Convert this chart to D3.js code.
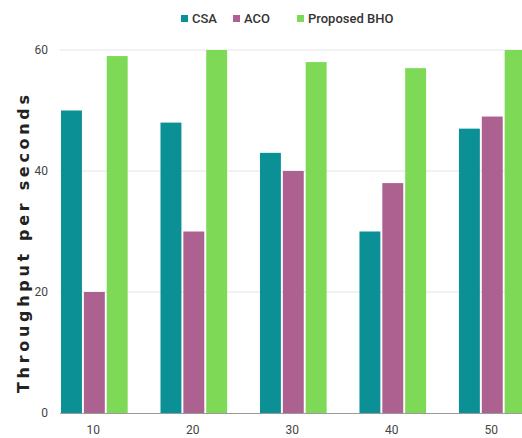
<!DOCTYPE html>
<html><head><meta charset="utf-8">
<script src="https://cdn.jsdelivr.net/npm/d3@7"></script>
<style>body{margin:0;background:#fff;} svg{display:block;}</style>
</head><body>
<script>
const categories = ["10","20","30","40","50"];
const seriesNames = ["CSA","ACO","Proposed BHO"];
const csa = [50,48,43,30,47];
const aco = [20,30,40,38,49];
const bho = [59,60,58,57,60];
const yTicks = [0,20,40,60];
const colors = ["#0b9096","#ad6191","#7dd956"];

const W=522,H=438;
const svg=d3.select("body").append("svg").attr("width",W).attr("height",H);
const values=[csa,aco,bho];

const y=d3.scaleLinear().domain([0,60]).range([413,50]);
const x=d3.scaleBand().domain(categories).range([44.6,542]).paddingInner(0.33).paddingOuter(0.165);
const xs=d3.scaleBand().domain(seriesNames).range([0,x.bandwidth()]).paddingInner(0.085);

// gridlines
svg.append("g").selectAll("line").data(yTicks.filter(d=>d>0)).join("line")
 .attr("x1",60).attr("x2",W).attr("y1",d=>y(d)).attr("y2",d=>y(d))
 .attr("stroke","#e4e4e4").attr("stroke-width",1);

// bars
categories.forEach((c,i)=>{
  svg.append("g").selectAll("rect").data(seriesNames).join("rect")
   .attr("x",s=>x(c)+xs(s)).attr("width",xs.bandwidth())
   .attr("y",(s,j)=>y(values[j][i])).attr("height",(s,j)=>y(0)-y(values[j][i]))
   .attr("fill",(s,j)=>colors[j]);
});

// baseline
svg.append("line").attr("x1",60).attr("x2",W).attr("y1",y(0)+0.5).attr("y2",y(0)+0.5)
 .attr("stroke","#9a9a9a").attr("stroke-width",1);

// y axis labels
const yAxis=d3.axisLeft(y).tickValues(yTicks).tickSize(0).tickPadding(0);
const gy=svg.append("g").attr("transform","translate(48,0)").call(yAxis);
gy.select(".domain").remove();
gy.selectAll("text").attr("font-family","Roboto, sans-serif").attr("font-size",12).attr("fill","#444");

// x axis labels
const xAxis=d3.axisBottom(x).tickSize(0).tickPadding(0);
const gx=svg.append("g").attr("transform","translate(-1,425)").call(xAxis);
gx.select(".domain").remove();
gx.selectAll("text").attr("font-family","Roboto, sans-serif").attr("font-size",12).attr("fill","#444");

// y title
const title=svg.append("text")
 .attr("font-family","DejaVu Sans, sans-serif")
 .attr("font-weight","bold").attr("font-size",16).attr("fill","#222")
 .text("Throughput per seconds");
const natural=title.node().getComputedTextLength();
const target=298, nChars=22;
const ls=(target-natural)/(nChars-1);
title.attr("letter-spacing",ls+"px")
 .attr("text-anchor","middle")
 .attr("transform",`translate(29,${244-ls/2}) rotate(-90)`);

// legend
const legX=[181,233,297];
const lg=svg.append("g");
seriesNames.forEach((s,i)=>{
  lg.append("rect").attr("x",legX[i]).attr("y",15).attr("width",7).attr("height",7).attr("fill",colors[i]);
  lg.append("text").attr("x",legX[i]+11).attr("y",23).attr("font-family","Roboto, sans-serif")
   .attr("font-size",13).attr("font-weight",500).attr("fill","#333").text(s);
});
</script>
</body></html>
